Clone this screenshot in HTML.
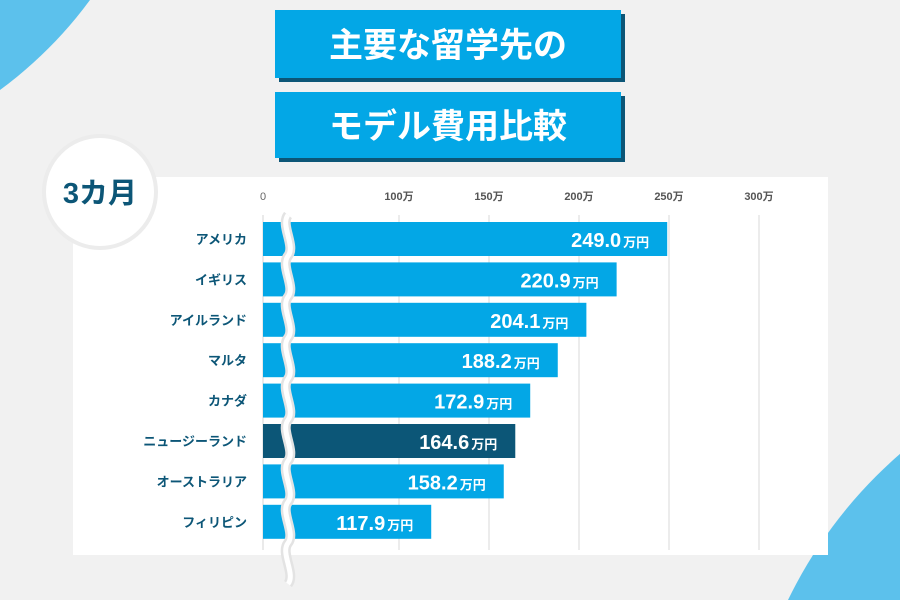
<!DOCTYPE html>
<html><head><meta charset="utf-8"><style>
html,body{margin:0;width:900px;height:600px;overflow:hidden;background:#f1f1f1;font-family:"Liberation Sans","Noto Sans CJK JP",sans-serif}
</style></head><body>
<svg width="900" height="600" viewBox="0 0 900 600" xmlns="http://www.w3.org/2000/svg" style="display:block">
<circle cx="-250" cy="-250" r="422" fill="#5cc1ec"/>
<circle cx="1200" cy="800" r="458" fill="#5cc1ec"/>
<rect x="279" y="14" width="346" height="68" fill="#0c5677"/>
<rect x="275" y="10" width="346" height="68" fill="#03a7e6"/>
<text x="448" y="57" text-anchor="middle" font-size="34" font-weight="bold" fill="#fff">主要な留学先の</text>
<rect x="279" y="96" width="346" height="66" fill="#0c5677"/>
<rect x="275" y="92" width="346" height="66" fill="#03a7e6"/>
<text x="448" y="138" text-anchor="middle" font-size="34" font-weight="bold" fill="#fff">モデル費用比較</text>
<rect x="73" y="177" width="755" height="378" fill="#fff"/>
<circle cx="100" cy="192" r="56" fill="#fff" stroke="#ececec" stroke-width="4"/>
<text x="100" y="203" text-anchor="middle" font-size="29" font-weight="bold" fill="#0c5677">3カ月</text>
<g id="grid"></g><g id="bars"></g>
<path id="brk" d="" fill="none" stroke="#e3e3e3" stroke-width="10"/>
<path id="brk2" d="" fill="none" stroke="#fff" stroke-width="5"/>
</svg>
<script>
const categories=["アメリカ","イギリス","アイルランド","マルタ","カナダ","ニュージーランド","オーストラリア","フィリピン"];
const values=[249.0,220.9,204.1,188.2,172.9,164.6,158.2,117.9];
const highlight=[false,false,false,false,false,true,false,false];
const ticks=[100,150,200,250,300];
const tickLabels=["100万","150万","200万","250万","300万"];
const NS="http://www.w3.org/2000/svg";
const x0=263;
function xs(v){return 669+(v-250)*1.8;}
function ys(i){return 222+i*40.4;}
function mk(t,a,p){const e=document.createElementNS(NS,t);for(const k in a)e.setAttribute(k,a[k]);p.appendChild(e);return e;}
const grid=document.getElementById('grid'),bars=document.getElementById('bars');
const z=mk('text',{x:x0,y:200,'text-anchor':'middle','font-size':11,fill:'#666'},grid);z.textContent='0';


mk('line',{x1:x0,x2:x0,y1:215,y2:550,stroke:'#e3e3e3','stroke-width':1.5},grid);
ticks.forEach((t,i)=>{
 const l=mk('line',{x1:xs(t),x2:xs(t),y1:215,y2:550,stroke:'#e6e6e6','stroke-width':1.5},grid);
 
 
 const tx=mk('text',{x:xs(t),y:200,'text-anchor':'middle','font-size':11,'font-weight':'bold',fill:'#555'},grid);
 tx.textContent=tickLabels[i];
 
 
});
categories.forEach((c,i)=>{
 const y=ys(i);
 const r=mk('rect',{x:x0,y:y,width:xs(values[i])-x0,height:34,fill:highlight[i]?'#0c5677':'#03a7e6'},bars);
 
 
 const lb=mk('text',{x:247,y:y+22,'text-anchor':'end','font-size':13,'font-weight':'bold',fill:'#0c5677'},bars);
 lb.textContent=c;
 
 
 const vt=mk('text',{x:xs(values[i])-18,y:y+25,'text-anchor':'end',fill:'#fff','font-weight':'bold'},bars);
 
 
 const a=mk('tspan',{'font-size':20},vt);a.textContent=values[i].toFixed(1);
 const b=mk('tspan',{'font-size':13,dx:2},vt);b.textContent='万円';
});
let d='M288 215';
for(let y=215;y<545;y+=41){d+=` C280 ${y+10} 296 ${y+31} 288 ${y+41}`;}
document.getElementById('brk').setAttribute('d',d);
document.getElementById('brk2').setAttribute('d',d);
</script>
</body></html>
